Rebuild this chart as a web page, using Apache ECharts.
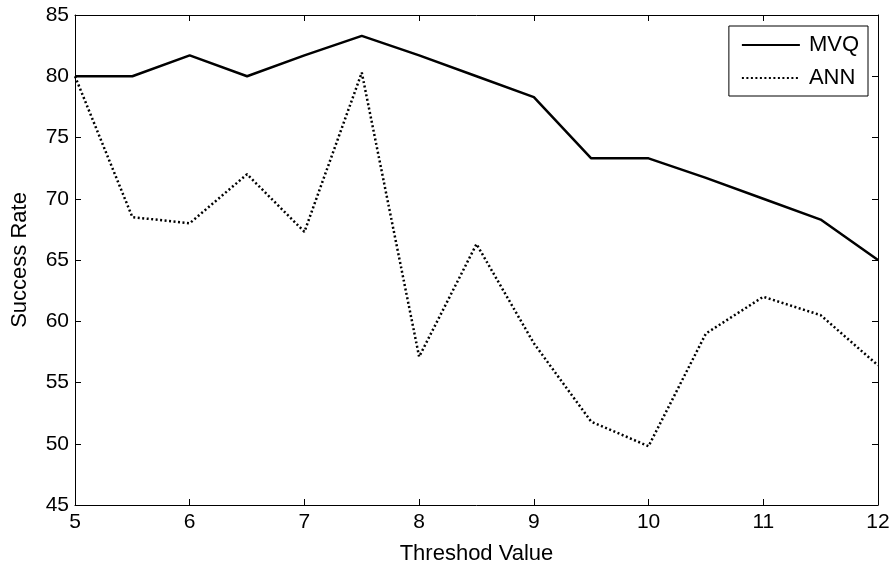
<!DOCTYPE html>
<html><head><meta charset="utf-8">
<script src="https://cdn.jsdelivr.net/npm/echarts@6/dist/echarts.min.js"></script>
<style>html,body{margin:0;padding:0;background:#fff}#c{width:892px;height:567px}</style>
</head><body><div id="c"></div>
<script>
const thresholds = [5, 5.5, 6, 6.5, 7, 7.5, 8, 8.5, 9, 9.5, 10, 10.5, 11, 11.5, 12];
const mvq = [80, 80, 81.7, 80, 81.7, 83.3, 81.7, 80, 78.3, 73.3, 73.3, 71.7, 70, 68.3, 65];
const ann = [80, 68.5, 68.0, 72.0, 67.3, 80.3, 57.1, 66.3, 58.2, 51.8, 49.8, 59.0, 62.0, 60.5, 56.4];
const seriesNames = ['MVQ', 'ANN'];
const xLabel = 'Threshod Value';
const yLabel = 'Success Rate';

const font = 'Liberation Sans, Arial, sans-serif';
const pair = (xs, ys) => xs.map((x, i) => [x, ys[i]]);
const axisCommon = {
  axisLine: {show: true, lineStyle: {color: '#000', width: 1}},
  axisTick: {show: true, inside: true, length: 6, lineStyle: {color: '#000'}},
  splitLine: {show: false},
  axisLabel: {color: '#000', fontFamily: font, fontSize: 21}
};
const chart = echarts.init(document.getElementById('c'));
chart.setOption({
  animation: false,
  backgroundColor: '#fff',
  grid: {left: 75, right: 14, top: 15, bottom: 62, containLabel: false, outerBoundsMode: 'none'},
  legend: {
    orient: 'vertical', right: 24, top: 26,
    data: seriesNames,
    itemStyle: {opacity: 0, borderWidth: 0},
    itemWidth: 58, itemHeight: 14, itemGap: 11,
    backgroundColor: '#fff', borderColor: '#000', borderWidth: 1,
    padding: [8, 9, 7, 12],
    textStyle: {color: '#000', fontFamily: font, fontSize: 22, padding: [0, 0, 0, 4]}
  },
  xAxis: [
    Object.assign({}, axisCommon, {type: 'value', min: 5, max: 12, interval: 1, position: 'bottom',
      name: xLabel, nameLocation: 'middle', nameGap: 38,
      nameTextStyle: {color: '#000', fontFamily: font, fontSize: 22},
      axisLabel: Object.assign({}, axisCommon.axisLabel, {margin: 7})}),
    Object.assign({}, axisCommon, {type: 'value', min: 5, max: 12, interval: 1, position: 'top',
      axisLabel: {show: false}})
  ],
  yAxis: [
    Object.assign({}, axisCommon, {type: 'value', min: 45, max: 85, interval: 5, position: 'left',
      name: yLabel, nameLocation: 'middle', nameGap: 44,
      nameTextStyle: {color: '#000', fontFamily: font, fontSize: 22},
      axisLabel: Object.assign({}, axisCommon.axisLabel, {margin: 6})}),
    Object.assign({}, axisCommon, {type: 'value', min: 45, max: 85, interval: 5, position: 'right',
      axisLabel: {show: false}})
  ],
  series: [
    {name: seriesNames[0], type: 'line', data: pair(thresholds, mvq), symbol: 'none',
      lineStyle: {color: '#000', width: 2.5, type: 'solid'}, itemStyle: {color: '#000'}},
    {name: seriesNames[1], type: 'line', data: pair(thresholds, ann), symbol: 'none',
      lineStyle: {color: '#000', width: 2.5, type: [2, 2.5]}, itemStyle: {color: '#000'}}
  ]
});
</script></body></html>
